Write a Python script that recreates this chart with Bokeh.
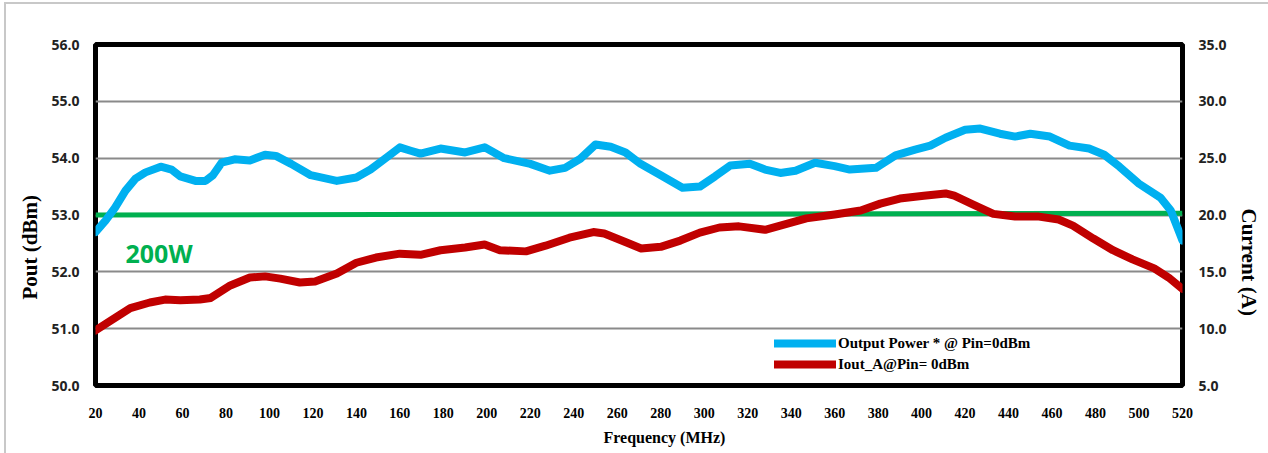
import math
from bokeh.plotting import figure
from bokeh.models import (Range1d, LinearAxis, FixedTicker, PrintfTickFormatter,
                          Legend, LegendItem, Label, Title)
from bokeh.embed import file_html
from bokeh.resources import INLINE

# Frequency (MHz) and output power (dBm)
pout_freq = [20, 24.6, 29, 33.8, 38.4, 43, 50, 55, 59, 66, 70.6, 74, 78, 84, 91, 98, 103,
             110, 119, 131, 140, 146.5, 153.5, 160, 165, 169.5, 178.7, 190, 199, 208, 220,
             229, 236, 243, 250, 257, 263.8, 270.7, 280, 290, 298, 305, 312, 321, 328, 335,
             342, 351, 360, 367, 379, 388, 397, 404, 411, 420, 427, 436, 443, 450, 459, 468,
             477, 484, 491, 500, 510, 514.6, 520]
pout_dbm = [52.7, 52.9, 53.13, 53.43, 53.64, 53.75, 53.85, 53.8, 53.68, 53.6, 53.6, 53.7,
            53.92, 53.98, 53.96, 54.06, 54.04, 53.9, 53.7, 53.6, 53.66, 53.8, 54.0, 54.19,
            54.13, 54.08, 54.17, 54.1, 54.19, 54.0, 53.9, 53.78, 53.83, 53.99, 54.24, 54.2,
            54.1, 53.9, 53.7, 53.48, 53.5, 53.68, 53.87, 53.9, 53.8, 53.74, 53.78, 53.92,
            53.86, 53.8, 53.83, 54.05, 54.15, 54.22, 54.36, 54.5, 54.52, 54.43, 54.38, 54.43,
            54.38, 54.22, 54.17, 54.06, 53.85, 53.55, 53.3, 53.08, 52.55]

# Frequency (MHz) and current (A)
iout_freq = [20, 27, 36, 45, 52, 59, 68, 73, 82, 91, 98, 105, 114, 121, 131, 140, 149, 160,
             169.5, 178.7, 190, 199, 206, 218, 227, 238, 249, 254, 264, 271, 280, 289, 298,
             307, 316, 328, 335, 347, 360, 372, 381, 390, 401, 411, 415, 424, 433, 443, 454,
             463, 469.6, 479, 488, 497, 507, 513.6, 520]
iout_a = [9.84, 10.7, 11.8, 12.3, 12.56, 12.5, 12.56, 12.7, 13.8, 14.5, 14.6, 14.4, 14.06,
          14.15, 14.85, 15.8, 16.26, 16.6, 16.5, 16.9, 17.14, 17.4, 16.9, 16.8, 17.3, 18.0,
          18.5, 18.37, 17.6, 17.05, 17.2, 17.75, 18.45, 18.9, 19.0, 18.7, 19.07, 19.7, 20.04,
          20.4, 21.0, 21.45, 21.7, 21.9, 21.7, 20.9, 20.1, 19.86, 19.86, 19.6, 19.07, 17.93,
          16.9, 16.1, 15.3, 14.5, 13.5]

# 200 W reference line (dBm)
ref_freq = [20, 520]
ref_dbm = [53.0, 53.03]

x_ticks = list(range(20, 521, 20))
left_ticks = [50, 51, 52, 53, 54, 55, 56]
right_ticks = [5, 10, 15, 20, 25, 30, 35]

BLUE = "#00b0f0"
RED = "#c00000"
GREEN = "#00b050"

W, H = 1257, 449
BL, BR, BT, BB = 89, 81, 40, 68
FW, FH = 1087, 341
X0, X1 = 20, 520

p = figure(width=W, height=H, output_backend="svg", toolbar_location=None,
           x_range=Range1d(X0, X1), y_range=Range1d(50, 56),
           min_border_left=BL, min_border_right=BR, min_border_top=BT, min_border_bottom=BB)
p.frame_width = FW
p.frame_height = FH
p.styles = {"margin-left": "4px", "margin-top": "2px", "border": "2px solid #c8c8c8"}
p.background_fill_color = "white"
p.border_fill_color = "white"
p.outline_line_color = "black"
p.outline_line_width = 5

p.extra_y_ranges = {"cur": Range1d(5, 35)}

p.xgrid.visible = False
p.ygrid.ticker = FixedTicker(ticks=left_ticks)
p.ygrid.grid_line_color = "#8a8a8a"
p.ygrid.grid_line_width = 2

l_green = p.line(ref_freq, ref_dbm, color=GREEN, line_width=5)
l_blue = p.line(pout_freq, pout_dbm, color=BLUE, line_width=8, line_join="round", line_cap="round")
l_red = p.line(iout_freq, iout_a, color=RED, line_width=8, line_join="round", line_cap="round",
               y_range_name="cur")

xa = p.xaxis[0]
xa.ticker = FixedTicker(ticks=x_ticks)

ya = p.yaxis[0]
ya.ticker = FixedTicker(ticks=left_ticks)
ya.formatter = PrintfTickFormatter(format="%.1f")

ra = LinearAxis(y_range_name="cur", ticker=FixedTicker(ticks=right_ticks),
                formatter=PrintfTickFormatter(format="%.1f"))
p.add_layout(ra, "right")

for ax in (xa, ya, ra):
    ax.axis_line_color = None
    ax.major_tick_line_color = None
    ax.minor_tick_line_color = None

for ax in (ya, ra):
    ax.major_label_text_font = "Open Sans"
    ax.major_label_text_font_style = "bold"
    ax.major_label_text_font_size = "14px"
    ax.major_label_text_color = "#222222"
    ax.major_label_standoff = 10

xa.major_label_text_font = "Liberation Serif"
xa.major_label_text_font_style = "bold"
xa.major_label_text_font_size = "14px"
xa.major_label_text_color = "black"
xa.major_label_standoff = 16

p.add_layout(Title(text="Frequency (MHz)", align="left", offset=508, standoff=12,
                   text_font="Liberation Serif", text_font_style="bold",
                   text_font_size="16px", text_color="black"), "below")
p.add_layout(Title(text="Pout (dBm)", align="left", offset=86, standoff=14,
                   text_font="Liberation Serif", text_font_style="bold",
                   text_font_size="21px", text_color="black"), "left")
p.add_layout(Title(text="Current (A)", align="left", offset=164, standoff=14,
                   text_font="Liberation Serif", text_font_style="bold",
                   text_font_size="21px", text_color="black"), "right")

legend = Legend(items=[LegendItem(label="Output Power * @ Pin=0dBm", renderers=[l_blue]),
                       LegendItem(label="Iout_A@Pin= 0dBm", renderers=[l_red])],
                location=(679, 11), orientation="vertical")
legend.background_fill_alpha = 0
legend.border_line_color = None
legend.padding = 0
legend.margin = 0
legend.spacing = 1
legend.glyph_width = 62
legend.glyph_height = 20
legend.label_height = 20
legend.label_standoff = 2
legend.label_text_font = "Liberation Serif"
legend.label_text_font_style = "bold"
legend.label_text_font_size = "15px"
legend.label_text_color = "black"
p.add_layout(legend, "center")

p.add_layout(Label(x=33.8, y=52.34, text="200W", text_color=GREEN, text_font="Open Sans",
                   text_font_style="bold", text_font_size="25px", text_baseline="middle",
                   text_align="left"))

open("out.html", "w").write(file_html(p, INLINE))
